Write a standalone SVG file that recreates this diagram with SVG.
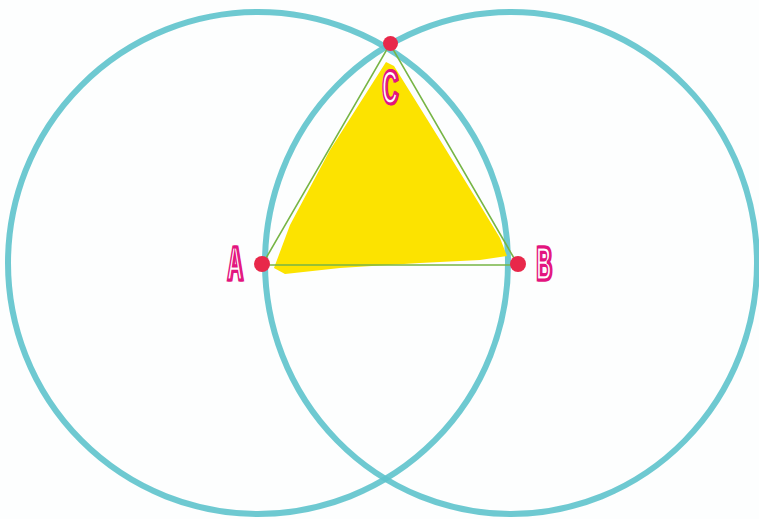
<svg xmlns="http://www.w3.org/2000/svg" width="759" height="519" viewBox="0 0 759 519">
<style>
.circ{fill:none;stroke:#5ec3cc;stroke-width:6;stroke-opacity:0.9}
.edge{fill:none;stroke:#77b545;stroke-width:1.6}
.pt{fill:#e8284a}
.lbl{font-family:"Liberation Sans",Arial,sans-serif;font-weight:bold;font-size:49px;fill:#ffffff;stroke:#e3147f;stroke-width:3;paint-order:normal}
.shadow{font-family:"Liberation Sans",Arial,sans-serif;font-weight:bold;font-size:49px;fill:#e3147f;stroke:#e3147f;stroke-width:3}
</style>
<rect width="759" height="519" fill="#fdfefe"/>
<g id="circleA"><ellipse class="circ" cx="258" cy="263" rx="250" ry="251"/></g>
<g id="circleB"><ellipse class="circ" cx="511" cy="263" rx="246" ry="251"/></g>
<g id="fill"><polygon fill="#fce300" points="386,62 394,66 440,140 480,205 500,238 507,256 480,260 420,263 340,268 285,274 274,268 290,225 330,150 365,95"/></g>
<g id="connectors">
<polyline class="edge" points="262,265 390,44 518,265 262,265"/>
</g>
<g id="A"><circle class="pt" cx="262" cy="264" r="8"/>
<g transform="translate(227,280) scale(0.44,1)"><text class="shadow" x="3" y="0">A</text><text class="lbl" x="0" y="0">A</text></g></g>
<g id="B"><circle class="pt" cx="518" cy="264" r="8"/>
<g transform="translate(536,280) scale(0.44,1)"><text class="shadow" x="3" y="0">B</text><text class="lbl" x="0" y="0">B</text></g></g>
<g id="C"><circle class="pt" cx="390.5" cy="43.5" r="7.5"/>
<g transform="translate(382,104) scale(0.44,1)"><text class="shadow" x="3" y="0">C</text><text class="lbl" x="0" y="0">C</text></g></g>
</svg>
